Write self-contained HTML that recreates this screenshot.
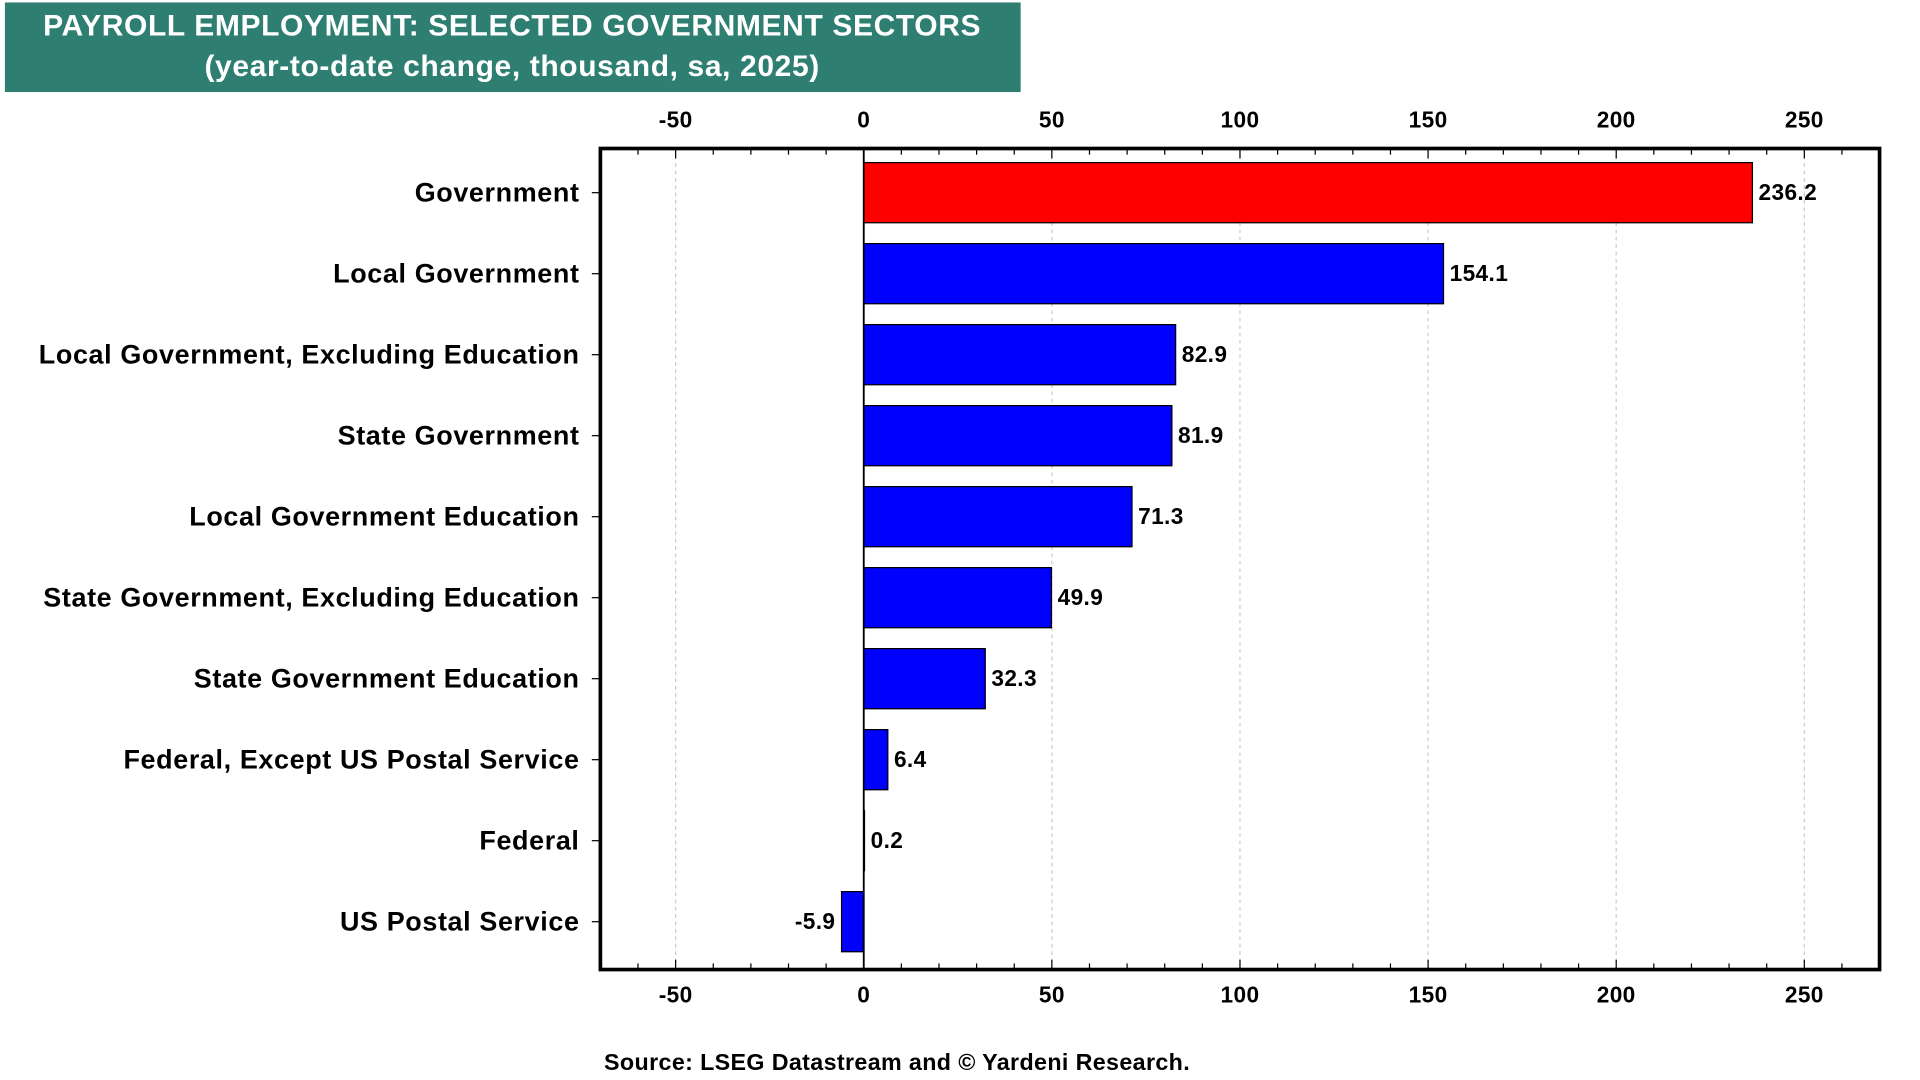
<!DOCTYPE html>
<html><head><meta charset="utf-8"><style>
html,body{margin:0;padding:0;background:#fff;width:1920px;height:1080px;overflow:hidden}
svg{display:block}
text{font-family:"Liberation Sans",Arial,sans-serif;font-weight:bold}
</style></head><body>
<svg id="chart" width="1920" height="1080" viewBox="0 0 1567 880" preserveAspectRatio="none" xmlns="http://www.w3.org/2000/svg">
<rect x="4" y="2" width="829" height="73" fill="#2e7f72"/>
<text x="418" y="29" text-anchor="middle" fill="#fff" font-size="24.5" letter-spacing="0.5">PAYROLL EMPLOYMENT: SELECTED GOVERNMENT SECTORS</text>
<text x="418" y="62" text-anchor="middle" fill="#fff" font-size="24.5" letter-spacing="0.5">(year-to-date change, thousand, sa, 2025)</text>
<g id="plot"></g>
<text x="493" y="872" font-size="19" letter-spacing="0.3">Source: LSEG Datastream and © Yardeni Research.</text>
</svg>
<script>
const categories=["Government","Local Government","Local Government, Excluding Education","State Government","Local Government Education","State Government, Excluding Education","State Government Education","Federal, Except US Postal Service","Federal","US Postal Service"];
const values=[236.2,154.1,82.9,81.9,71.3,49.9,32.3,6.4,0.2,-5.9];
const colors=["#ff0000","#0000ff","#0000ff","#0000ff","#0000ff","#0000ff","#0000ff","#0000ff","#0000ff","#0000ff"];
const xTicks=[-50,0,50,100,150,200,250];
const xMin=-70,xMax=270;
const L=490,R=1534,T=121,B=790;
const NS="http://www.w3.org/2000/svg";
const g=document.getElementById('plot');
function x(v){return L+(v-xMin)/(xMax-xMin)*(R-L);}
const rowStep=66;
function yc(i){return 157+i*rowStep;}
function mk(tag,attrs,txt){const e=document.createElementNS(NS,tag);for(const k in attrs)e.setAttribute(k,attrs[k]);if(txt!==undefined)e.textContent=txt;g.appendChild(e);return e;}
xTicks.forEach(t=>{
 if(t!==0){const l=mk('line',{x1:x(t),x2:x(t),y1:T,y2:B,stroke:'#ccc','stroke-width':1,'stroke-dasharray':'3,3'});
 
 }
 const a=mk('text',{x:x(t),y:104,'text-anchor':'middle','font-size':18.5,'letter-spacing':0.3},String(t));
 
 
 const b=mk('text',{x:x(t),y:817,'text-anchor':'middle','font-size':18.5,'letter-spacing':0.3},String(t));
 
 
});
for(let v=-70;v<=270;v+=10){
 const len=(v%50===0)?8:5;
 mk('line',{x1:x(v),x2:x(v),y1:T,y2:T+len,stroke:'#000','stroke-width':1});
 mk('line',{x1:x(v),x2:x(v),y1:B,y2:B-len,stroke:'#000','stroke-width':1});
}
values.forEach((v,i)=>{
 const y0=yc(i)-24.5;
 const x0=Math.min(x(0),x(v)),w=Math.abs(x(v)-x(0));
 const r=mk('rect',{x:x0,y:y0,width:Math.max(w,0.5),height:49,fill:colors[i],stroke:'#000','stroke-width':1});
 
 
 const lab=mk('text',{x:v>=0?x(v)+5:x(v)-5,y:yc(i)+6,'text-anchor':v>=0?'start':'end','font-size':18.5,'letter-spacing':0.3},v.toFixed(1));
 
 
 const c=mk('text',{x:473,y:yc(i)+7,'text-anchor':'end','font-size':22,'letter-spacing':0.5},categories[i]);
 
 
 mk('line',{x1:483,x2:490,y1:yc(i),y2:yc(i),stroke:'#000','stroke-width':1});
});
const z=mk('line',{x1:x(0),x2:x(0),y1:T,y2:B,stroke:'#000','stroke-width':1.5});


const f=mk('rect',{x:L,y:T,width:R-L,height:B-T,fill:'none',stroke:'#000','stroke-width':3});


</script>
</body></html>
